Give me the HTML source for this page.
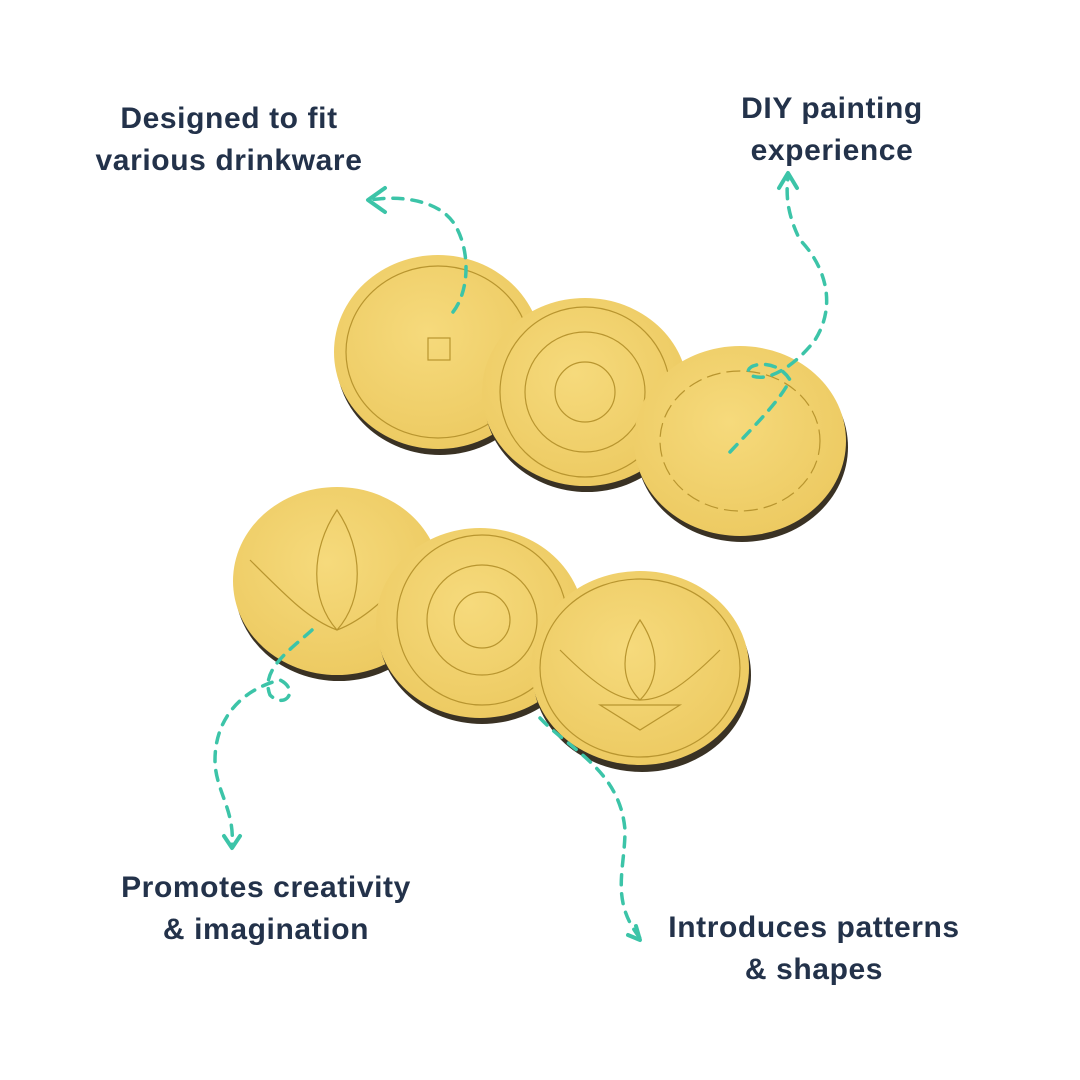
<!DOCTYPE html>
<html><head><style>
html,body{margin:0;padding:0;background:#fff}
svg{display:block}
text{font-family:"Liberation Sans",sans-serif;font-weight:bold;font-size:30px;letter-spacing:0.6px;fill:#23324a;text-anchor:middle}
</style></head><body>
<svg width="1080" height="1080" viewBox="0 0 1080 1080">
<defs>
<radialGradient id="g" cx="45%" cy="40%" r="65%">
<stop offset="0" stop-color="#f6da7c"/><stop offset="1" stop-color="#ecc960"/>
</radialGradient>
</defs>
<g stroke="#b8952f" stroke-width="1.2" fill="none">
<ellipse cx="440" cy="358" rx="104" ry="97" fill="#3a3224" stroke="none"/>
<ellipse cx="438" cy="352" rx="104" ry="97" fill="url(#g)" stroke="none"/>
<ellipse cx="438" cy="352" rx="92" ry="86"/>
<rect x="428" y="338" width="22" height="22"/>
<ellipse cx="587" cy="398" rx="103" ry="94" fill="#3a3224" stroke="none"/>
<ellipse cx="585" cy="392" rx="103" ry="94" fill="url(#g)" stroke="none"/>
<circle cx="585" cy="392" r="30"/><circle cx="585" cy="392" r="60"/><circle cx="585" cy="392" r="85"/>
<ellipse cx="742" cy="447" rx="106" ry="95" fill="#3a3224" stroke="none"/>
<ellipse cx="740" cy="441" rx="106" ry="95" fill="url(#g)" stroke="none"/>
<ellipse cx="740" cy="441" rx="80" ry="70" stroke-dasharray="14 6"/>
<ellipse cx="339" cy="587" rx="104" ry="94" fill="#3a3224" stroke="none"/>
<ellipse cx="337" cy="581" rx="104" ry="94" fill="url(#g)" stroke="none"/>
<path d="M337 510 C310 550 310 600 337 630 C364 600 364 550 337 510Z M250 560 C290 600 310 620 337 630 C364 620 384 600 424 560"/>
<ellipse cx="482" cy="629" rx="104" ry="95" fill="#3a3224" stroke="none"/>
<ellipse cx="480" cy="623" rx="104" ry="95" fill="url(#g)" stroke="none"/>
<circle cx="482" cy="620" r="28"/><circle cx="482" cy="620" r="55"/><circle cx="482" cy="620" r="85"/>
<ellipse cx="642" cy="675" rx="109" ry="97" fill="#3a3224" stroke="none"/>
<ellipse cx="640" cy="668" rx="109" ry="97" fill="url(#g)" stroke="none"/>
<path d="M640 620 C620 650 620 680 640 700 C660 680 660 650 640 620Z M560 650 C600 690 620 700 640 700 C660 700 680 690 720 650 M600 705 L680 705 L640 730Z"/>
<ellipse cx="640" cy="668" rx="100" ry="89"/>
</g>
<g stroke="#3cc4a8" stroke-width="3.5" fill="none" stroke-linecap="round" stroke-dasharray="10 9">
<path d="M453 312 C470 290 470 250 455 225 C440 200 400 195 370 200"/>
<path d="M730 452 C760 420 780 400 790 380 C775 355 740 365 750 375 C770 385 800 360 815 340 C840 300 820 260 800 240 C790 220 785 200 788 178"/>
<path d="M312 630 C290 650 260 670 270 695 C285 710 300 690 280 680 C240 690 215 720 215 760 C215 790 235 810 232 845"/>
<path d="M540 718 C570 750 620 770 625 830 C625 870 610 900 640 938"/>
</g>
<g stroke="#3cc4a8" stroke-width="4" fill="none" stroke-linecap="round" stroke-linejoin="round">
<path d="M385 188 L368 200 L385 212"/>
<path d="M779 188 L788 173 L797 188"/>
<path d="M224 836 L232 848 L240 836"/>
<path d="M628 935 L640 940 L636 926"/>
</g>
<text x="229" y="128">Designed to fit</text>
<text x="229" y="170">various drinkware</text>
<text x="832" y="118">DIY painting</text>
<text x="832" y="160">experience</text>
<text x="266" y="897">Promotes creativity</text>
<text x="266" y="939">&amp; imagination</text>
<text x="814" y="937">Introduces patterns</text>
<text x="814" y="979">&amp; shapes</text>
</svg>
</body></html>
